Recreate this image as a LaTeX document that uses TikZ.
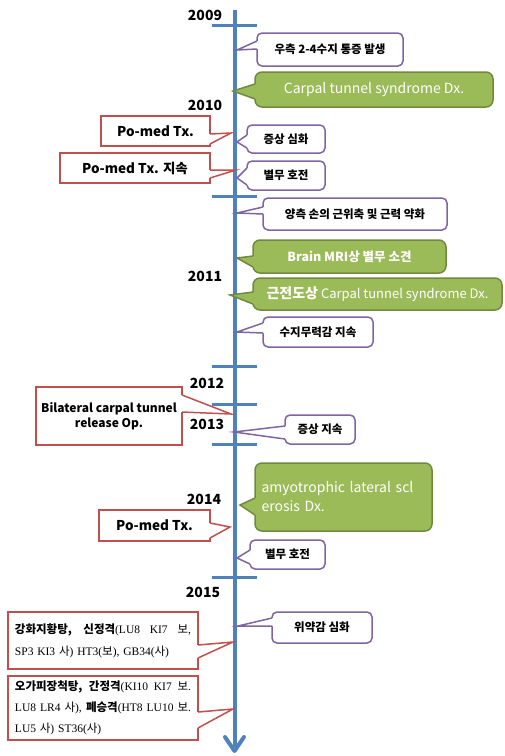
\documentclass[tikz,border=0pt]{standalone}
\usepackage{fontspec}
\setmainfont{Noto Sans CJK KR}
\newfontfamily\tnr{Liberation Serif}
\usetikzlibrary{calc}
\definecolor{axisblue}{HTML}{4F81BD}
\definecolor{cpurple}{HTML}{8064A2}
\definecolor{cgreen}{HTML}{9BBB59}
\definecolor{cgreenD}{HTML}{71893F}
\definecolor{cred}{HTML}{C0504D}
\newcommand\wedgeL[6]{%
  \coordinate (#1-b1) at ($(#1.north west)+(0,#2)$);
  \coordinate (#1-b2) at ($(#1.north west)+(0,#3)$);
  \fill[#5] ($(#1-b1)+(1.6,0)$) -- (#1-b1) -- (#4) -- (#1-b2) -- ($(#1-b2)+(1.6,0)$) -- cycle;
  \draw[#6, line width=1.5pt, line join=miter] (#1-b1) -- (#4) -- (#1-b2);}
\newcommand\wedgeR[6]{%
  \coordinate (#1-b1) at ($(#1.north east)+(0,#2)$);
  \coordinate (#1-b2) at ($(#1.north east)+(0,#3)$);
  \fill[#5] ($(#1-b1)+(-1.6,0)$) -- (#1-b1) -- (#4) -- (#1-b2) -- ($(#1-b2)+(-1.6,0)$) -- cycle;
  \draw[#6, line width=1.5pt, line join=miter] (#1-b1) -- (#4) -- (#1-b2);}
\newcommand\fs[2]{\fontsize{#1}{#2}\selectfont}
\newcommand\jline[1]{\makebox[176pt][s]{\spaceskip=3pt plus 1fil\relax #1}}
\tikzset{
  every node/.style={inner sep=0pt, outer sep=0pt},
  pbox/.style={draw=cpurple, line width=1.5pt, fill=white, rounded corners=5pt, anchor=north west, font=\bfseries\fs{11.5}{13}, text=black},
  gbox/.style={draw=cgreenD, fill=cgreen, line width=1.5pt, rounded corners=7pt, anchor=north west, text=white},
  rbox/.style={draw=cred, line width=1.5pt, fill=white, anchor=north west, font=\bfseries\fs{13.5}{16}, text=black},
  year/.style={font=\bfseries\fs{14}{16}, text=black},
  axisline/.style={draw=axisblue, line width=4pt},
  tickline/.style={draw=axisblue, line width=3pt},
}
\begin{document}
\begin{tikzpicture}[x=1pt, y=-1pt]
\useasboundingbox (0,0) rectangle (505,756);
% axis
\coordinate (top) at (234.5,10);
\coordinate (bot) at (234.5,751);
\draw[axisline] (top) -- (bot);
\draw[axisline, line cap=round, line join=round] ($(bot)+(-9.5,-14)$) -- (bot) -- ($(bot)+(9.5,-14)$);
% ticks
\foreach \yy in {25,196,366,404,444,577} \draw[tickline] (212,\yy) -- (257,\yy);
% years
\node[year] (y2009) at (205,15) {2009};
\node[year] (y2010) at (205,105) {2010};
\node[year] (y2011) at (205,276) {2011};
\node[year] (y2012) at (207,383) {2012};
\node[year] (y2013) at (207,424) {2013};
\node[year] (y2014) at (204,499) {2014};
\node[year] (y2015) at (203,592) {2015};
% tips
\coordinate (t1) at (237,50);
\coordinate (t2) at (233,91);
\coordinate (t3) at (231,133);
\coordinate (t4) at (237,142);
\coordinate (t5) at (236,170);
\coordinate (t6) at (237,178);
\coordinate (t7) at (237,213);
\coordinate (t8) at (237,258);
\coordinate (t9) at (230,295);
\coordinate (t10) at (237,332);
\coordinate (t11) at (231,414);
\coordinate (t12) at (234,432);
\coordinate (t13) at (240,505);
\coordinate (t14) at (230,527);
\coordinate (t15) at (237,558);
\coordinate (t16) at (238,626);
\coordinate (t17) at (233,642);
\coordinate (t18) at (233,709);
% callouts
\node[pbox, minimum width=146, minimum height=33] (c1) at (257,33) {우측 2-4수지 통증 발생};
\wedgeL{c1}{8}{16}{t1}{white}{cpurple}
\node[gbox, minimum width=238, minimum height=35, font=\fs{14}{16}] (c2) at (255,72) {Carpal tunnel syndrome Dx.};
\wedgeL{c2}{12}{27}{t2}{cgreen}{cgreenD}
\node[rbox, minimum width=109, minimum height=30] (c3) at (101,116) {Po-med Tx.};
\wedgeR{c3}{18}{28}{t3}{white}{cred}
\node[pbox, minimum width=78, minimum height=28] (c4) at (247,125) {증상 심화};
\wedgeL{c4}{10}{23}{t4}{white}{cpurple}
\node[rbox, minimum width=150, minimum height=30] (c5) at (60,153) {Po-med Tx. 지속};
\wedgeR{c5}{17}{25}{t5}{white}{cred}
\node[pbox, minimum width=78, minimum height=29] (c6) at (247,161) {별무 호전};
\wedgeL{c6}{7}{24}{t6}{white}{cpurple}
\node[pbox, minimum width=184, minimum height=32] (c7) at (263,198) {양측 손의 근위축 및 근력 약화};
\wedgeL{c7}{9}{16}{t7}{white}{cpurple}
\node[gbox, minimum width=193, minimum height=33, font=\bfseries\fs{12.5}{14}] (c8) at (253,240) {Brain MRI상 별무 소견};
\wedgeL{c8}{16}{27}{t8}{cgreen}{cgreenD}
\node[gbox, minimum width=249, minimum height=32, font=\fs{13}{15}] (c9) at (253,278) {{\bfseries\fs{14}{16}근전도상} Carpal tunnel syndrome Dx.};
\wedgeL{c9}{14}{26}{t9}{cgreen}{cgreenD}
\node[pbox, minimum width=110, minimum height=30] (c10) at (263,317) {수지무력감 지속};
\wedgeL{c10}{6}{16}{t10}{white}{cpurple}
\node[rbox, minimum width=146, minimum height=58, font=\bfseries\fs{12}{15}, align=center] (c11) at (36,387) {Bilateral carpal tunnel\\release Op.};
\wedgeR{c11}{8}{25}{t11}{white}{cred}
\node[pbox, minimum width=70, minimum height=29] (c12) at (285,415) {증상 지속};
\wedgeL{c12}{11}{24}{t12}{white}{cpurple}
\node[gbox, minimum width=177, minimum height=68, font=\fs{14}{19}, align=left, text width=164] (c13) at (255,463) {amyotrophic lateral scl\\erosis Dx.};
\wedgeL{c13}{35}{52}{t13}{cgreen}{cgreenD}
\node[rbox, minimum width=111, minimum height=31] (c14) at (99,510) {Po-med Tx.};
\wedgeR{c14}{13}{28}{t14}{white}{cred}
\node[pbox, minimum width=75, minimum height=29] (c15) at (250,540) {별무 호전};
\wedgeL{c15}{10}{24}{t15}{white}{cpurple}
\node[pbox, minimum width=100, minimum height=31] (c16) at (272,612) {위약감 심화};
\wedgeL{c16}{6}{14}{t16}{white}{cpurple}
\node[rbox, minimum width=190, minimum height=57, font=\fs{11.5}{22}, align=left, text width=176] (c17) at (8,612)
  {\jline{\bfseries 강화지황탕, 신정격{\mdseries\tnr(LU8 KI7 }\mdseries 보{\tnr,}}\\
   {\tnr SP3 KI3 }사{\tnr) HT3(}보{\tnr), GB34(}사{\tnr)}};
\wedgeR{c17}{33}{46}{t17}{white}{cred}
\node[rbox, minimum width=190, minimum height=64, font=\fs{11.5}{21}, align=left, text width=176] (c18) at (8,676)
  {\jline{\bfseries 오가피장척탕, 간정격{\mdseries\tnr(KI10 KI7 }\mdseries 보{\tnr.}}\\
   \jline{{\tnr LU8 LR4 }사{\tnr), }{\bfseries 폐승격}{\tnr(HT8 LU10 }보{\tnr.}}\\
   {\tnr LU5 }사{\tnr) ST36(}사{\tnr)}};
\wedgeR{c18}{36}{52}{t18}{white}{cred}
\end{tikzpicture}
\end{document}
